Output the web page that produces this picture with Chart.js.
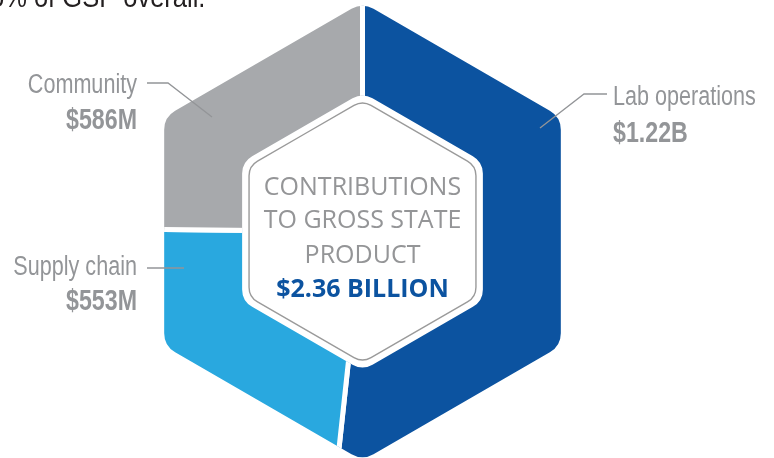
<!DOCTYPE html>
<html>
<head>
<meta charset="utf-8">
<script src="https://cdn.jsdelivr.net/npm/chart.js@4.4.1/dist/chart.umd.min.js"></script>
<style>
html,body{margin:0;padding:0;background:#fff;}
#wrap{position:relative;width:774px;height:458px;overflow:hidden;}
</style>
</head>
<body>
<div id="wrap"><canvas id="c"></canvas></div>
<script>
// ---- data ----
const categories = ['Lab operations', 'Supply chain', 'Community'];
const values = [1.22, 0.553, 0.586];           // billions of dollars
const valueLabels = ['$1.22B', '$553M', '$586M'];
const sliceColors = ['#0c53a0', '#29a8df', '#a7a9ac'];
const centerLines = ['CONTRIBUTIONS', 'TO GROSS STATE', 'PRODUCT'];
const centerTotal = '$2.36 BILLION';
const topNote = '5% of GSP overall.';

// ---- layout / style ----
const OUTER_R = 229, OUTER_CORNER = 22;
const HOLE_R = 139, HOLE_CORNER = 20;
const LINE_R = 131, LINE_CORNER = 17;
const GRAY = '#939598';
const SANS = "'Liberation Sans', Arial, sans-serif";

// label placement
const labelLayout = [
  {align:'left',  x:613, y1:105, y2:142, leader:[[607,94],[584,94],[540,128]]},
  {align:'right', x:137, y1:275, y2:310, leader:[[147,268],[184,268]]},
  {align:'right', x:137, y1:93,  y2:129, leader:[[147,83],[168,83],[212,117]]}
];

function hexPath(ctx, cx, cy, R, r) {
  const pts = [];
  for (let k = 0; k < 6; k++) {
    const a = (-90 + 60 * k) * Math.PI / 180;
    pts.push([cx + R * Math.cos(a), cy + R * Math.sin(a)]);
  }
  const m = [(pts[5][0] + pts[0][0]) / 2, (pts[5][1] + pts[0][1]) / 2];
  ctx.moveTo(m[0], m[1]);
  for (let k = 0; k < 6; k++) {
    const p = pts[k], q = pts[(k + 1) % 6];
    ctx.arcTo(p[0], p[1], q[0], q[1], r);
  }
  ctx.closePath();
}

function narrowText(ctx, text, x, y, align, font, sx) {
  ctx.save();
  ctx.translate(x, y);
  ctx.scale(sx, 1);
  ctx.textAlign = align;
  ctx.textBaseline = 'alphabetic';
  ctx.font = font;
  ctx.fillText(text, 0, 0);
  ctx.restore();
}

const hexPlugin = {
  id: 'hex',
  beforeDatasetsDraw(chart) {
    const arc = chart.getDatasetMeta(0).data[0];
    const ctx = chart.ctx;
    ctx.save();
    ctx.beginPath();
    hexPath(ctx, arc.x, arc.y, OUTER_R, OUTER_CORNER);
    hexPath(ctx, arc.x, arc.y, HOLE_R, HOLE_CORNER);
    ctx.clip('evenodd');
  },
  afterDatasetsDraw(chart) {
    const ctx = chart.ctx;
    ctx.restore();
    const arc = chart.getDatasetMeta(0).data[0];
    const cx = arc.x, cy = arc.y;
    ctx.save();
    // inner outline
    ctx.beginPath();
    hexPath(ctx, cx, cy, LINE_R, LINE_CORNER);
    ctx.strokeStyle = '#9a9a9a';
    ctx.lineWidth = 1.4;
    ctx.stroke();
    // center text
    ctx.textAlign = 'center';
    ctx.textBaseline = 'alphabetic';
    ctx.fillStyle = '#949597';
    ctx.font = "25px 'Open Sans', sans-serif";
    const base = [195, 228, 263];
    centerLines.forEach((t, i) => ctx.fillText(t, cx, base[i]));
    ctx.fillStyle = '#0c53a0';
    ctx.font = "bold 25px 'Open Sans', sans-serif";
    ctx.fillText(centerTotal, cx, 297);
    // labels
    ctx.strokeStyle = GRAY;
    ctx.lineWidth = 1.3;
    labelLayout.forEach((L, i) => {
      ctx.beginPath();
      L.leader.forEach((p, j) => j ? ctx.lineTo(p[0], p[1]) : ctx.moveTo(p[0], p[1]));
      ctx.stroke();
      ctx.fillStyle = GRAY;
      narrowText(ctx, categories[i], L.x, L.y1, L.align, "27px " + SANS, 0.8);
      narrowText(ctx, valueLabels[i], L.x, L.y2, L.align, "bold 29px " + SANS, 0.8);
    });
    // cropped note at top
    ctx.fillStyle = '#231f20';
    narrowText(ctx, topNote, -10, 7, 'left', "30px " + SANS, 0.85);
    ctx.restore();
  }
};

new Chart(document.getElementById('c'), {
  type: 'doughnut',
  data: {
    labels: categories,
    datasets: [{
      data: values,
      backgroundColor: sliceColors,
      borderColor: '#ffffff',
      borderWidth: 5,
      radius: 270,
      cutout: '30%',
      clip: false
    }]
  },
  options: {
    responsive: true,
    maintainAspectRatio: false,
    animation: false,
    events: [],
    layout: {padding: {left: 0, right: 49, top: 5, bottom: 0}},
    plugins: {legend: {display: false}, tooltip: {enabled: false}}
  },
  plugins: [hexPlugin]
});
</script>
</body>
</html>
